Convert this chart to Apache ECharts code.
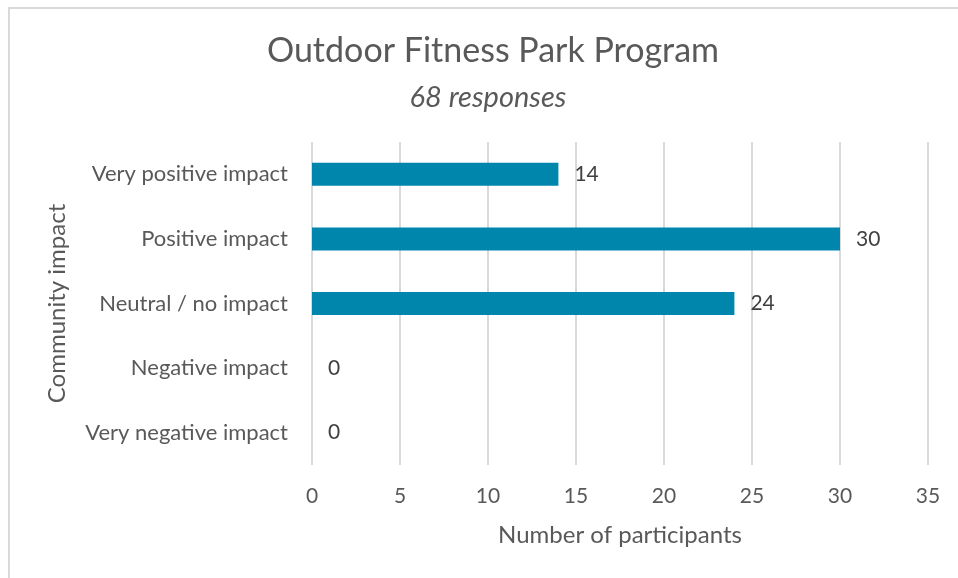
<!DOCTYPE html>
<html>
<head>
<meta charset="UTF-8">
<title>Outdoor Fitness Park Program</title>
<script src="https://cdn.jsdelivr.net/npm/echarts@6/dist/echarts.min.js"></script>
<style>
  html, body { margin: 0; padding: 0; background: #fff; }
  #frame { position: absolute; left: 8px; top: 7px; width: 960px; height: 580px;
           border-top: 2px solid #d9d9d9; border-left: 2px solid #d9d9d9; }
  #main { position: absolute; left: 0; top: 0; width: 958px; height: 578px; }
</style>
</head>
<body>
<div id="frame"></div>
<div id="main"></div>
<script type="text/javascript">
// data
var categories = ['Very positive impact', 'Positive impact', 'Neutral / no impact', 'Negative impact', 'Very negative impact'];
var participants = [14, 30, 24, 0, 0];
var xTicks = [0, 5, 10, 15, 20, 25, 30, 35];

var FONT = 'Lato';
var chart = echarts.init(document.getElementById('main'));

var option = {
  backgroundColor: 'transparent',
  title: [{
    text: 'Outdoor Fitness Park Program',
    left: 488, top: 29, textAlign: 'center',
    textStyle: { fontFamily: FONT, fontSize: 34, fontWeight: 'normal', color: '#595959' }
  }, {
    text: '68 responses',
    left: 483, top: 78, textAlign: 'center',
    textStyle: { fontFamily: FONT, fontSize: 29, fontStyle: 'italic', fontWeight: 'normal', color: '#595959' }
  }],
  grid: { left: 312, right: 30, top: 142, bottom: 113, containLabel: false },
  xAxis: {
    type: 'value',
    min: xTicks[0], max: xTicks[xTicks.length - 1], interval: 5,
    name: 'Number of participants',
    nameLocation: 'middle', nameGap: 58,
    nameTextStyle: { fontFamily: FONT, fontSize: 24, color: '#595959' },
    axisLine: { show: false },
    axisTick: { show: false },
    axisLabel: { margin: 21, fontFamily: FONT, fontSize: 21, color: '#595959' },
    splitLine: { show: true, lineStyle: { color: '#d9d9d9', width: 2 } }
  },
  yAxis: {
    type: 'category',
    data: categories,
    inverse: true,
    name: 'Community impact',
    nameLocation: 'middle', nameGap: 243, nameRotate: 90,
    nameTextStyle: { fontFamily: FONT, fontSize: 24, color: '#595959' },
    axisLine: { show: false },
    axisTick: { show: false },
    axisLabel: { margin: 24, fontFamily: FONT, fontSize: 22, color: '#595959' }
  },
  series: [{
    type: 'bar',
    data: participants,
    barWidth: 23,
    itemStyle: { color: '#0085ad' },
    label: {
      show: true, position: 'right', distance: 16,
      fontFamily: FONT, fontSize: 21, color: '#404040'
    },
    silent: true
  }],
  animation: false
};
chart.setOption(option);
</script>
</body>
</html>
